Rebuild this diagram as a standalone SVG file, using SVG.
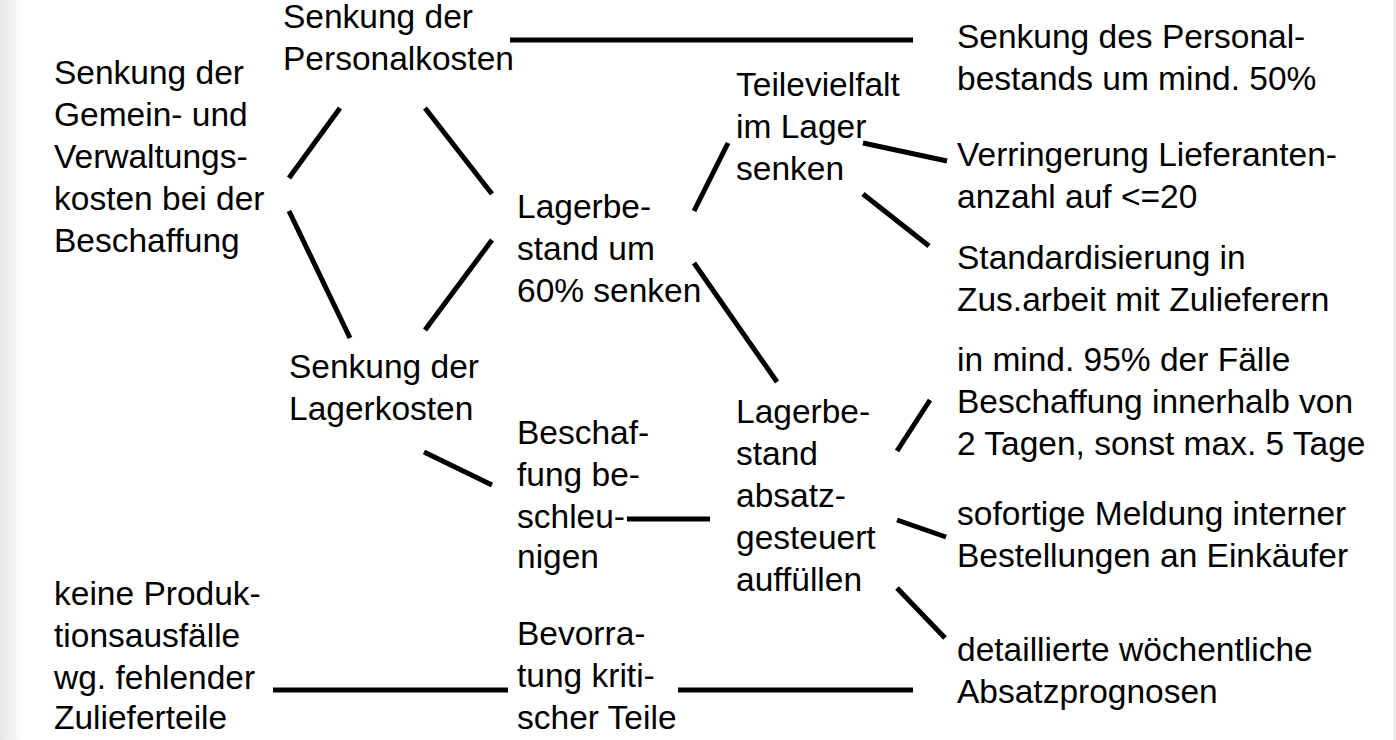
<svg xmlns="http://www.w3.org/2000/svg" width="1396" height="740" viewBox="0 0 1396 740">
<defs>
<linearGradient id="lg" x1="0" y1="0" x2="1" y2="0">
<stop offset="0" stop-color="#e6e6e6"/>
<stop offset="1" stop-color="#ffffff"/>
</linearGradient>
<style>
text{font-family:"Liberation Sans",Arial,sans-serif;font-size:33.5px;fill:#000}
.c line{stroke:#000;stroke-width:5;stroke-linecap:butt}
</style>
</defs>
<rect x="0" y="0" width="1396" height="740" fill="#fff"/>
<rect x="0" y="0" width="24" height="740" fill="url(#lg)"/>
<rect x="1393" y="0" width="3" height="740" fill="#ececec"/>
<g class="c" id="connectors">
<line x1="510" y1="40" x2="913" y2="40"/>
<line x1="340" y1="108" x2="289" y2="178"/>
<line x1="425" y1="108" x2="492" y2="194"/>
<line x1="289" y1="211" x2="350" y2="338"/>
<line x1="425" y1="330" x2="492" y2="240"/>
<line x1="728" y1="143" x2="694" y2="211"/>
<line x1="863" y1="143" x2="947" y2="161"/>
<line x1="863" y1="194" x2="929" y2="246"/>
<line x1="694" y1="263" x2="777" y2="382"/>
<line x1="424" y1="452" x2="492" y2="485"/>
<line x1="627" y1="519" x2="710" y2="519"/>
<line x1="930" y1="400" x2="897" y2="451"/>
<line x1="897" y1="520" x2="946" y2="537"/>
<line x1="897" y1="588" x2="945" y2="638"/>
<line x1="273" y1="690" x2="508" y2="690"/>
<line x1="678" y1="690" x2="913" y2="690"/>
</g>
<g id="n1"><text x="283" y="28">Senkung der</text><text x="283" y="70">Personalkosten</text></g>
<g id="n2"><text x="54" y="84">Senkung der</text><text x="54" y="126">Gemein- und</text><text x="54" y="168">Verwaltungs-</text><text x="54" y="210">kosten bei der</text><text x="54" y="252">Beschaffung</text></g>
<g id="n3"><text x="289" y="378">Senkung der</text><text x="289" y="420">Lagerkosten</text></g>
<g id="n4"><text x="517" y="218">Lagerbe-</text><text x="517" y="260">stand um</text><text x="517" y="302">60% senken</text></g>
<g id="n5"><text x="736" y="96">Teilevielfalt</text><text x="736" y="138">im Lager</text><text x="736" y="180">senken</text></g>
<g id="n6"><text x="957" y="48">Senkung des Personal-</text><text x="957" y="90">bestands um mind. 50%</text></g>
<g id="n7"><text x="957" y="166">Verringerung Lieferanten-</text><text x="957" y="208">anzahl auf &lt;=20</text></g>
<g id="n8"><text x="957" y="269">Standardisierung in</text><text x="957" y="311">Zus.arbeit mit Zulieferern</text></g>
<g id="n9"><text x="957" y="371">in mind. 95% der Fälle</text><text x="957" y="413">Beschaffung innerhalb von</text><text x="957" y="455">2 Tagen, sonst max. 5 Tage</text></g>
<g id="n10"><text x="736" y="423">Lagerbe-</text><text x="736" y="465">stand</text><text x="736" y="507">absatz-</text><text x="736" y="549">gesteuert</text><text x="736" y="591">auffüllen</text></g>
<g id="n11"><text x="517" y="444">Beschaf-</text><text x="517" y="486">fung be-</text><text x="517" y="528">schleu-</text><text x="517" y="568">nigen</text></g>
<g id="n12"><text x="957" y="525">sofortige Meldung interner</text><text x="957" y="567">Bestellungen an Einkäufer</text></g>
<g id="n13"><text x="54" y="605">keine Produk-</text><text x="54" y="647">tionsausfälle</text><text x="54" y="689">wg. fehlender</text><text x="54" y="729">Zulieferteile</text></g>
<g id="n14"><text x="517" y="645">Bevorra-</text><text x="517" y="687">tung kriti-</text><text x="517" y="729">scher Teile</text></g>
<g id="n15"><text x="957" y="661">detaillierte wöchentliche</text><text x="957" y="703">Absatzprognosen</text></g>
</svg>
